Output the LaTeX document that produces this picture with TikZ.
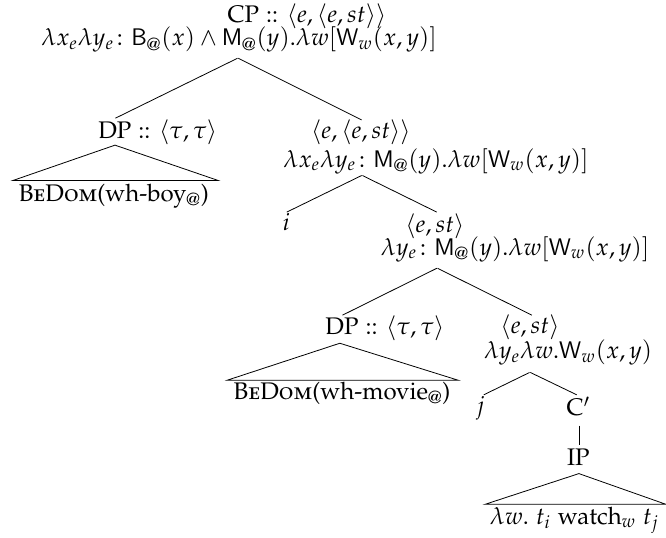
\documentclass[tikz,border=0pt,12pt]{standalone}
\usepackage[T1]{fontenc}
\usepackage{amsmath,amssymb}
\usepackage[sc]{mathpazo}
\usepackage[scaled=0.92]{helvet}
\tikzset{empty/.style={draw=none, fill=none, minimum size=0mm, inner sep=0mm}}
\tikzset{lbl/.style={inner sep=0mm}}

\begin{document}
\begin{tikzpicture}
    \useasboundingbox (0cm, 0cm) rectangle (11.70cm, 9.44cm);

    % root
    \node (cp) [lbl, anchor=west] at (3.99cm, 9.15cm) {CP :: $\langle e,\langle e,st\rangle\rangle$};
    \node (cpm) [lbl] at (4.20cm, 8.74cm) {$\lambda x_e\lambda y_e\colon \mathsf{B}_{@}(x)\wedge\mathsf{M}_{@}(y).\lambda w[\mathsf{W}_w(x,y)]$};
    \node (cpb) [empty] at (4.18cm, 8.42cm) {};

    % first DP
    \node (dpat) [empty] at (2.02cm, 7.36cm) {};
    \node (dpa) [lbl, anchor=west] at (1.72cm, 7.12cm) {DP :: $\langle\tau,\tau\rangle$};
    \node (dpab) [empty] at (2.02cm, 6.89cm) {};
    \node (dpal) [empty] at (0.23cm, 6.27cm) {};
    \node (dpar) [empty] at (3.83cm, 6.27cm) {};
    \node (dpaw) [lbl] at (2.00cm, 5.99cm) {\textsc{BeDom}(wh-boy$_{@}$)};

    \draw (cpb) edge (dpat);
    \draw (dpab.center) -- (dpal.center) -- (dpar.center) -- cycle;

    % <e,<e,st>>
    \node (eet) [empty] at (6.36cm, 7.33cm) {};
    \node (eea) [lbl] at (6.34cm, 7.12cm) {$\langle e,\langle e,st\rangle\rangle$};
    \node (eem) [lbl] at (7.66cm, 6.61cm) {$\lambda x_e\lambda y_e\colon \mathsf{M}_{@}(y).\lambda w[\mathsf{W}_w(x,y)]$};
    \node (eeb) [empty] at (6.36cm, 6.36cm) {};

    \draw (cpb) edge (eet);

    \node (it) [empty] at (5.03cm, 5.71cm) {};
    \node (i) [lbl] at (5.03cm, 5.54cm) {$i$};

    % first <e,st>
    \node (esat) [empty] at (7.68cm, 5.71cm) {};
    \node (esa) [lbl] at (7.64cm, 5.47cm) {$\langle e,st\rangle$};
    \node (esam) [lbl] at (9.05cm, 5.06cm) {$\lambda y_e\colon \mathsf{M}_{@}(y).\lambda w[\mathsf{W}_w(x,y)]$};
    \node (esab) [empty] at (7.68cm, 4.73cm) {};

    \draw (eeb) edge (it);
    \draw (eeb) edge (esat);

    % second DP
    \node (dpbt) [empty] at (6.01cm, 3.90cm) {};
    \node (dpb) [lbl, anchor=west] at (5.71cm, 3.67cm) {DP :: $\langle\tau,\tau\rangle$};
    \node (dpbb) [empty] at (5.97cm, 3.41cm) {};
    \node (dpbl) [empty] at (3.99cm, 2.76cm) {};
    \node (dpbr) [empty] at (8.05cm, 2.76cm) {};
    \node (dpbw) [lbl] at (6.01cm, 2.53cm) {\textsc{BeDom}(wh-movie$_{@}$)};

    \draw (esab) edge (dpbt);
    \draw (dpbb.center) -- (dpbl.center) -- (dpbr.center) -- cycle;

    % second <e,st>
    \node (esbt) [empty] at (9.35cm, 3.90cm) {};
    \node (esb) [lbl] at (9.31cm, 3.69cm) {$\langle e,st\rangle$};
    \node (esbm) [lbl] at (9.98cm, 3.25cm) {$\lambda y_e\lambda w.\mathsf{W}_w(x,y)$};
    \node (esbb) [empty] at (9.31cm, 2.90cm) {};

    \draw (esab) edge (esbt);

    \node (jt) [empty] at (8.49cm, 2.50cm) {};
    \node (j) [lbl] at (8.44cm, 2.27cm) {$j$};
    \node (ct) [empty] at (10.14cm, 2.50cm) {};
    \node (cbar) [lbl] at (10.16cm, 2.30cm) {C$'$};
    \node (cbarb) [empty] at (10.17cm, 1.97cm) {};

    \draw (esbb) edge (jt);
    \draw (esbb) edge (ct);

    % IP
    \node (ipt) [empty] at (10.17cm, 1.62cm) {};
    \node (ip) [lbl] at (10.16cm, 1.41cm) {IP};
    \node (ipb) [empty] at (10.17cm, 1.12cm) {};
    \node (ipl) [empty] at (8.52cm, 0.58cm) {};
    \node (ipr) [empty] at (11.70cm, 0.58cm) {};
    \node (ipw) [lbl] at (10.09cm, 0.30cm) {$\lambda w.\ t_i\ \text{watch}_w\ t_j$};

    \draw (cbarb) edge (ipt);
    \draw (ipb.center) -- (ipl.center) -- (ipr.center) -- cycle;
\end{tikzpicture}
\end{document}
